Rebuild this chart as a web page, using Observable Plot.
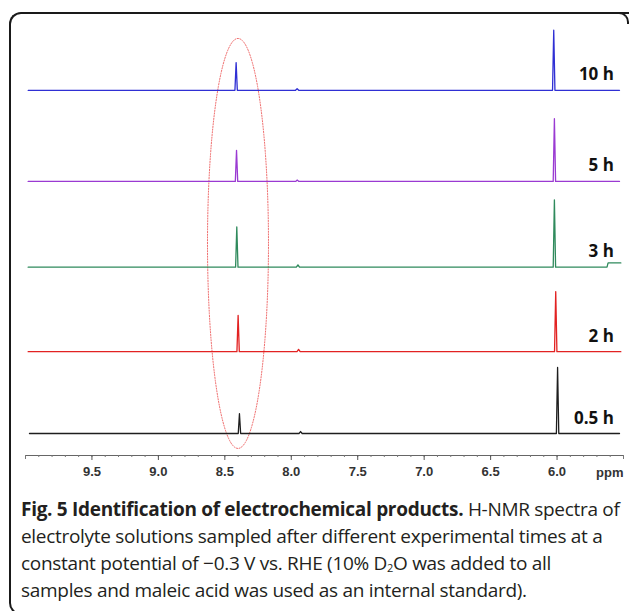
<!DOCTYPE html>
<html>
<head>
<meta charset="utf-8">
<script src="https://cdn.jsdelivr.net/npm/d3@7"></script>
<script src="https://cdn.jsdelivr.net/npm/@observablehq/plot@0.6"></script>
<style>
  html, body { margin: 0; padding: 0; background: #fff; }
  #wrap { position: relative; width: 629px; height: 611px; overflow: hidden; background: #fff; }
  #frame { position: absolute; left: 8.5px; top: 11.5px; width: 700px; height: 603px; box-sizing: border-box;
           border-top: 2.5px solid #1a1a1a; border-left: 2.5px solid #1a1a1a; border-bottom: 2.5px solid #1a1a1a;
           border-top-left-radius: 12px; border-bottom-left-radius: 12px; }
  #corner { position: absolute; left: 613px; top: 11.5px; width: 16px; height: 12px; box-sizing: border-box;
            border-top: 2.5px solid #1a1a1a; border-right: 2.5px solid #1a1a1a; border-top-right-radius: 10px; }
  #chart { position: absolute; left: 0; top: 0; }
  #caption { position: absolute; left: 21px; top: 496px; font-family: "Open Sans", sans-serif; font-size: 19px;
             line-height: 27px; color: #231f20; white-space: nowrap; letter-spacing: -0.3px; }
  #caption b { font-weight: 700; }
  #caption .sub { font-size: 11px; line-height: 11px; display: inline-block; vertical-align: baseline;
                  position: relative; top: 2px; }
</style>
</head>
<body>
<div id="wrap">
  <div id="frame"></div>
  <div id="corner"></div>
  <div id="chart"></div>
  <div id="caption">
    <div><b>Fig. 5 Identification of electrochemical products.</b> H-NMR spectra of</div>
    <div>electrolyte solutions sampled after different experimental times at a</div>
    <div>constant potential of −0.3 V vs. RHE (10% D<span class="sub">2</span>O was added to all</div>
    <div>samples and maleic acid was used as an internal standard).</div>
  </div>
</div>
<script>
// ---- data ----
const labels        = ["10 h", "5 h", "3 h", "2 h", "0.5 h"];
const colors        = ["#2f2fd4", "#9a3ad2", "#2f8a5c", "#e22222", "#1e1e1e"];
const offsets       = [5.20, 3.82, 2.52, 1.24, 0];          // stacked baseline of each spectrum
const startPpm      = [9.98, 9.98, 9.98, 9.98, 9.97];
const endPpm        = [5.53, 5.53, 5.52, 5.52, 5.53];
const formatePpm    = [8.415, 8.412, 8.410, 8.400, 8.390];
const formateHeight = [0.42, 0.47, 0.61, 0.55, 0.30];
const smallPpm      = [7.956, 7.955, 7.950, 7.945, 7.930];
const smallHeight   = [0.025, 0.02, 0.035, 0.035, 0.03];
const maleicPpm     = [6.025, 6.020, 6.020, 6.010, 5.996];
const maleicHeight  = [0.91, 0.95, 1.02, 0.91, 1.00];
const stepPpm       = [null, null, 5.62, null, null];
const stepHeight    = [0, 0, 0.065, 0, 0];
const majorTicks    = [9.5, 9.0, 8.5, 8.0, 7.5, 7.0, 6.5, 6.0];
const ellipse       = {ppm: 8.401, y: 2.88, rppm: 0.2295, ry: 3.106};

// ---- build line vertices from the values above ----
const peakW = 0.009, smallW = 0.012;
const points = [];
labels.forEach((s, i) => {
  const o = offsets[i];
  const v = [];
  v.push([startPpm[i], 0]);
  v.push([formatePpm[i] + peakW, 0], [formatePpm[i], formateHeight[i]], [formatePpm[i] - peakW, 0]);
  v.push([smallPpm[i] + smallW, 0], [smallPpm[i], smallHeight[i]], [smallPpm[i] - smallW, 0]);
  v.push([maleicPpm[i] + peakW, 0], [maleicPpm[i], maleicHeight[i]], [maleicPpm[i] - peakW, 0]);
  if (stepPpm[i] != null) v.push([stepPpm[i] + 0.004, 0], [stepPpm[i] - 0.004, stepHeight[i]], [endPpm[i], stepHeight[i]]);
  else v.push([endPpm[i], 0]);
  v.forEach(([p, h]) => points.push({series: s, ppm: p, y: o + h}));
});
const ellipsePts = d3.range(0, 361, 2).map(a => {
  const t = a * Math.PI / 180;
  return {ppm: ellipse.ppm + ellipse.rppm * Math.cos(t), y: ellipse.y + ellipse.ry * Math.sin(t)};
});
const minorTicks = d3.range(55, 101).map(d => d / 10);
const yMin = -0.333, yMax = 6.561;

const chart = Plot.plot({
  width: 629, height: 480,
  marginLeft: 25, marginRight: 6, marginTop: 0, marginBottom: 25,
  style: {background: "transparent", fontFamily: "Liberation Sans, Arial, sans-serif"},
  x: {domain: [10, 5.5], axis: null, label: null},
  y: {domain: [yMin, yMax], axis: null, label: null},
  color: {domain: labels, range: colors},
  marks: [
    Plot.ruleY([yMin], {stroke: "#666", strokeWidth: 1}),
    Plot.axisX({ticks: minorTicks, tickSize: 2, tickFormat: () => "", stroke: "#777", label: null}),
    Plot.axisX({ticks: [10, 5.5], tickSize: 4, tickFormat: () => "", stroke: "#777", label: null}),
    Plot.axisX({ticks: majorTicks, tickSize: 5, tickPadding: 6, tickFormat: d => d.toFixed(1), label: null,
                stroke: "#555", fill: "#333", fontSize: 13, fontWeight: "bold"}),
    Plot.text(["ppm"], {frameAnchor: "bottom-right", dy: 17, textAnchor: "end", lineAnchor: "middle",
                        fill: "#333", fontSize: 13, fontWeight: "bold"}),
    Plot.line(ellipsePts, {x: "ppm", y: "y", stroke: "#f07070", strokeWidth: 1, strokeDasharray: "1.2,1.5"}),
    Plot.line(points, {x: "ppm", y: "y", z: "series", stroke: "series", strokeWidth: 1.3}),
    Plot.text(labels, {x: 5.572, y: (d, i) => offsets[i], text: d => d, dy: -10, textAnchor: "end",
                       lineAnchor: "bottom", fill: "#111", fontSize: 17, fontWeight: "bold",
                       fontFamily: "Open Sans, sans-serif"})
  ]
});
document.getElementById("chart").appendChild(chart);
</script>
</body>
</html>
